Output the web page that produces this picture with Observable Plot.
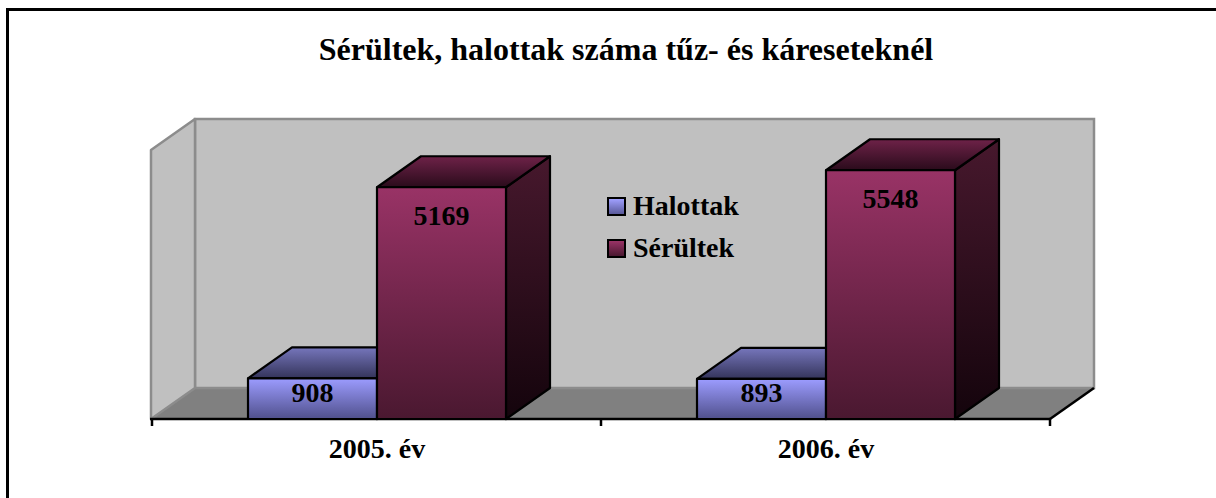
<!DOCTYPE html>
<html>
<head>
<meta charset="utf-8">
<script src="https://cdn.jsdelivr.net/npm/d3@7"></script>
<script src="https://cdn.jsdelivr.net/npm/@observablehq/plot@0.6"></script>
<style>
html,body{margin:0;padding:0;background:#fff;overflow:hidden;}
body{width:1216px;height:498px;position:relative;font-family:"Liberation Serif","Times New Roman",serif;color:#000;}
#frame{position:absolute;left:6px;top:8px;width:1300px;height:600px;border-left:3px solid #000;border-top:3px solid #000;}
#title{position:absolute;left:0;top:29px;width:1252px;text-align:center;font-weight:bold;font-size:32px;line-height:40px;margin:0;}
#chart{position:absolute;left:9px;top:81px;}
#legend{position:absolute;left:607px;top:185px;}
.row{position:relative;height:42px;line-height:42px;font-size:28px;font-weight:bold;white-space:nowrap;padding-left:26px;}
.sw{position:absolute;left:0;top:12px;width:15px;height:15px;border:2px solid #000;}
</style>
</head>
<body>
<div id="frame"></div>
<h1 id="title">Sérültek, halottak száma tűz- és káreseteknél</h1>
<div id="chart"></div>
<div id="legend"></div>
<script>
// ---- data ----
const years = [2005, 2006];
const seriesNames = ["Halottak", "Sérültek"];
const halottak = [908, 893];
const serultek = [5169, 5548];
const yMax = 6000;

// ---- styling ----
const colors = {
  Halottak: {front: ["#9c9cff", "#50508c"], top: ["#7676bc", "#34345a"], side: ["#3c3c66", "#1c1c33"], swatch: ["#a0a0ff", "#5a5a9a"]},
  "Sérültek": {front: ["#993366", "#4a1830"], top: ["#6e2248", "#2a0b1b"], side: ["#47182d", "#14040c"], swatch: ["#993366", "#4a1830"]}
};
const DX = 44, DY = -31;          // 3-D depth offset
const GROUP_OFFSET = 96 / 449;    // bar group start inside a category band
const BAR_FRAC = 129 / 449;       // one bar's share of the band
const FONT = "'Liberation Serif','Times New Roman',serif";

const rows = years.flatMap((yr, i) => [
  {year: yr, series: "Halottak", value: halottak[i]},
  {year: yr, series: "Sérültek", value: serultek[i]}
]);

const poly = pts => pts.map(p => p.join(",")).join(" ");

function scene(index, scales, values, dims) {
  const g = d3.create("svg:g");
  const xL = dims.marginLeft, xR = dims.width - dims.marginRight;
  const y0 = scales.y(0), yT = scales.y(yMax);
  // floor
  g.append("polygon").attr("points", poly([[xL, y0], [xL + DX, y0 + DY], [xR + DX, y0 + DY], [xR, y0]]))
    .attr("fill", "#808080");
  // back wall
  g.append("rect").attr("x", xL + DX).attr("y", yT + DY).attr("width", xR - xL).attr("height", y0 - yT)
    .attr("fill", "#c0c0c0").attr("stroke", "#8c8c8c").attr("stroke-width", 2.5);
  // left wall
  g.append("polygon").attr("points", poly([[xL, yT], [xL + DX, yT + DY], [xL + DX, y0 + DY], [xL, y0]]))
    .attr("fill", "#c0c0c0").attr("stroke", "#8c8c8c").attr("stroke-width", 2.5).attr("stroke-linejoin", "round");
  // floor right edge
  g.append("line").attr("x1", xR).attr("y1", y0).attr("x2", xR + DX).attr("y2", y0 + DY)
    .attr("stroke", "#000").attr("stroke-width", 2.5);
  // axis line
  g.append("line").attr("x1", xL - 1).attr("y1", y0).attr("x2", xR).attr("y2", y0)
    .attr("stroke", "#000").attr("stroke-width", 2.5);
  // ticks at band boundaries
  const bw = scales.x.bandwidth();
  const bounds = years.map(y => scales.x(y)).concat([scales.x(years[years.length - 1]) + bw]);
  bounds.forEach(bx => {
    g.append("line").attr("x1", bx).attr("x2", bx).attr("y1", y0).attr("y2", y0 + 7)
      .attr("stroke", "#000").attr("stroke-width", 2.5);
  });
  return g.node();
}

function grad(defs, id, stops) {
  const lg = defs.append("linearGradient").attr("id", id).attr("x1", 0).attr("y1", 0).attr("x2", 0).attr("y2", 1);
  lg.append("stop").attr("offset", "0%").attr("stop-color", stops[0]);
  lg.append("stop").attr("offset", "100%").attr("stop-color", stops[1]);
}

function bars3d(index, scales, values, dims) {
  const g = d3.create("svg:g");
  const defs = g.append("defs");
  seriesNames.forEach((s, k) => {
    grad(defs, "front" + k, colors[s].front);
    grad(defs, "top" + k, colors[s].top);
    grad(defs, "side" + k, colors[s].side);
  });
  const bw = scales.x.bandwidth();
  const y0 = scales.y(0);
  rows.forEach(d => {
    const k = seriesNames.indexOf(d.series);
    const x1 = scales.x(d.year) + bw * (GROUP_OFFSET + k * BAR_FRAC);
    const x2 = x1 + bw * BAR_FRAC;
    const y1 = scales.y(d.value);
    const common = sel => sel.attr("stroke", "#000").attr("stroke-width", 2.2).attr("stroke-linejoin", "round");
    common(g.append("polygon").attr("points", poly([[x2, y1], [x2 + DX, y1 + DY], [x2 + DX, y0 + DY], [x2, y0]]))
      .attr("fill", `url(#side${k})`));
    common(g.append("polygon").attr("points", poly([[x1, y1], [x1 + DX, y1 + DY], [x2 + DX, y1 + DY], [x2, y1]]))
      .attr("fill", `url(#top${k})`));
    common(g.append("rect").attr("x", x1).attr("y", y1).attr("width", x2 - x1).attr("height", y0 - y1)
      .attr("fill", `url(#front${k})`));
  });
  return g.node();
}

const halRows = rows.filter(d => d.series === "Halottak");
const serRows = rows.filter(d => d.series === "Sérültek");

const chart = Plot.plot({
  width: 1207,
  height: 417,
  marginLeft: 142,
  marginRight: 166,
  marginTop: 69,
  marginBottom: 79,
  x: {type: "band", domain: years, padding: 0},
  y: {domain: [0, yMax], axis: null},
  style: {fontFamily: FONT, background: "transparent", overflow: "visible", color: "#000"},
  marks: [
    scene,
    bars3d,
    Plot.text(halRows, {x: "year", y: "value", text: d => String(d.value), dx: -64.5, dy: 14,
      fontSize: 28, fontWeight: "bold", fill: "#000"}),
    Plot.text(serRows, {x: "year", y: "value", text: d => String(d.value), dx: 64.5, dy: 28,
      fontSize: 28, fontWeight: "bold", fill: "#000"}),
    Plot.axisX({tickSize: 0, tickPadding: 19, fontSize: 28, fontWeight: "bold", fill: "#000",
      tickFormat: d => `${d}. év`, label: null})
  ]
});
document.getElementById("chart").appendChild(chart);

// legend
const legend = d3.select("#legend");
seriesNames.forEach(s => {
  const row = legend.append("div").attr("class", "row");
  row.append("div").attr("class", "sw")
    .style("background", `linear-gradient(to bottom, ${colors[s].swatch[0]}, ${colors[s].swatch[1]})`);
  row.append("span").text(s);
});
</script>
</body>
</html>
